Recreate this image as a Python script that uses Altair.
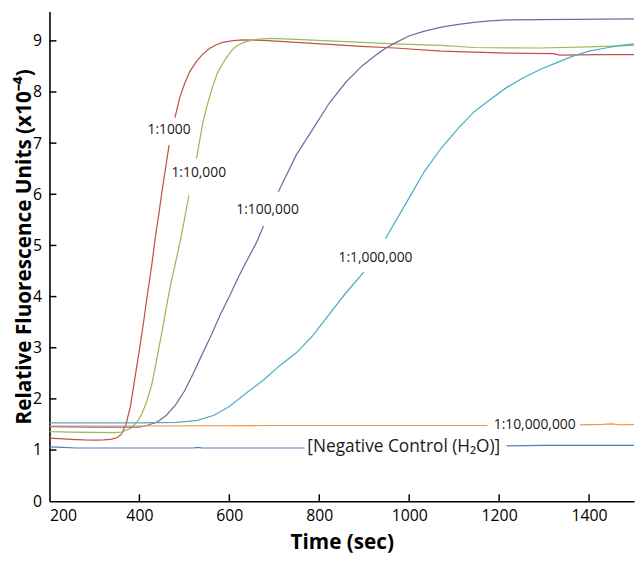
import altair as alt
import pandas as pd

# ---------------- data (None = break where a label sits) ----
red_t = [200, 230, 260, 277, 300, 320, 336, 350, 360, 370, 380, 388, 398, 408, 418, 428, 436, 443, 451, 466, None,
         479, 490, 500, 512, 527, 541, 556, 570, 585, 605, 629, 676, 749, 822, 895, 969, 1071, 1217, 1320, 1335, 1420, 1500]
red_v = [1.235, 1.22, 1.205, 1.197, 1.195, 1.2, 1.21, 1.24, 1.31, 1.5, 1.85, 2.3, 2.85, 3.42, 4.05, 4.65, 5.2, 5.6, 6.1, 6.96, None,
         7.5, 7.9, 8.15, 8.4, 8.6, 8.74, 8.85, 8.92, 8.97, 9.0, 9.02, 9.01, 8.97, 8.93, 8.89, 8.86, 8.80, 8.76, 8.75, 8.72, 8.73, 8.73]

green_t = [200, 250, 300, 340, 360, 380, 395, 405, 415, 427, 438, 450, 460, 470, 480, 490, 500, 510, None,
           527, 541, 551, 562, 573, 588, 603, 612, 620, 630, 639, 650, 660, 690, 749, 822, 895, 969, 1071, 1144, 1291, 1400, 1500]
green_v = [1.36, 1.35, 1.345, 1.34, 1.35, 1.42, 1.55, 1.7, 1.92, 2.26, 2.75, 3.3, 3.8, 4.26, 4.65, 5.05, 5.5, 5.98, None,
           6.7, 7.4, 7.75, 8.08, 8.36, 8.6, 8.79, 8.87, 8.92, 8.96, 8.99, 9.01, 9.03, 9.05, 9.03, 9.00, 8.97, 8.94, 8.91, 8.87, 8.86, 8.88, 8.91]

purple_t = [200, 300, 400, 420, 440, 460, 480, 500, 520, 540, 560, 580, 600, 620, 640, 660, 676, None,
            709, 749, 786, 822, 859, 895, 932, 950, 969, 998, 1030, 1071, 1110, 1144, 1180, 1217, 1364, 1500]
purple_v = [1.46, 1.45, 1.45, 1.49, 1.55, 1.68, 1.88, 2.15, 2.5, 2.88, 3.25, 3.65, 4.0, 4.38, 4.72, 5.05, 5.38, None,
            6.05, 6.77, 7.28, 7.78, 8.19, 8.51, 8.76, 8.87, 8.96, 9.09, 9.18, 9.27, 9.32, 9.36, 9.39, 9.41, 9.42, 9.43]

cyan_t = [200, 300, 400, 483, 529, 566, 600, 640, 676, 712, 749, 786, 822, 859, 899, None,
          947, 998, 1034, 1071, 1108, 1144, 1181, 1217, 1254, 1291, 1327, 1364, 1400, 1437, 1470, 1500]
cyan_v = [1.53, 1.53, 1.53, 1.54, 1.58, 1.68, 1.85, 2.13, 2.37, 2.65, 2.9, 3.24, 3.65, 4.07, 4.48, None,
          5.13, 5.9, 6.45, 6.9, 7.28, 7.61, 7.86, 8.09, 8.28, 8.44, 8.57, 8.70, 8.80, 8.86, 8.91, 8.94]

orange_t = [200, 400, 700, 1000, 1174, None, 1380, 1430, 1450, 1470, 1500]
orange_v = [1.47, 1.47, 1.48, 1.48, 1.48, None, 1.49, 1.50, 1.51, 1.49, 1.50]

blue_t = [200, 230, 260, 400, 520, 529, 540, 600, 767, None, 1217, 1300, 1400, 1500]
blue_v = [1.06, 1.05, 1.04, 1.04, 1.04, 1.05, 1.04, 1.04, 1.04, None, 1.08, 1.09, 1.09, 1.09]

series_names = ["1:1000", "1:10,000", "1:100,000", "1:1,000,000", "1:10,000,000", "Negative Control"]
series_colors = ["#c0504d", "#9bbb59", "#8064a2", "#4bacc6", "#f79646", "#4f81bd"]

label_text = ["1:1000", "1:10,000", "1:100,000", "1:1,000,000", "1:10,000,000", "[Negative Control (H\u2082O)]"]
label_t = [466, 532, 685, 925, 1279, 988]
label_v = [7.25, 6.42, 5.69, 4.75, 1.49, 1.06]
label_size = [14, 14, 14, 14, 14, 17.5]

x_ticks = [200, 400, 600, 800, 1000, 1200, 1400]
y_ticks = [0, 1, 2, 3, 4, 5, 6, 7, 8, 9]

# ---------------- build tables ----------------
rows = []
for name, ts, vs in zip(series_names,
                        [red_t, green_t, purple_t, cyan_t, orange_t, blue_t],
                        [red_v, green_v, purple_v, cyan_v, orange_v, blue_v]):
    seg = 0
    for t, v in zip(ts, vs):
        if v is None:
            seg += 1
            continue
        rows.append({"series": name, "seg": f"{name}-{seg}", "t": t, "v": v})
df = pd.DataFrame(rows)
labels = pd.DataFrame({"text": label_text, "t": label_t, "v": label_v, "size": label_size})
xt = pd.DataFrame({"t": x_ticks[1:]})
yt = pd.DataFrame({"v": y_ticks[1:]})

FONT = "Open Sans"
W, H = 592, 496
xscale = alt.Scale(domain=[200, 1500], nice=False, zero=False)
yscale = alt.Scale(domain=[0, 9.575], nice=False)

lines = alt.Chart(df).mark_line(strokeWidth=1.25).encode(
    x=alt.X("t:Q", scale=xscale,
            axis=alt.Axis(values=x_ticks, format="d", title="Time (sec)", ticks=False, tickSize=0,
                          labelPadding=7, grid=False, titleBaseline="alphabetic", titleY=48,
                          titleFontSize=21)),
    y=alt.Y("v:Q", scale=yscale,
            axis=alt.Axis(values=y_ticks, title="Relative Fluorescence Units (x10\u207b\u2074)",
                          ticks=False, tickSize=0, labelPadding=8, grid=False,
                          titleBaseline="alphabetic", titleX=-19, titleY=238, titleFontSize=21)),
    color=alt.Color("series:N", scale=alt.Scale(domain=series_names, range=series_colors), legend=None),
    detail="seg:N",
)

texts = alt.Chart(labels).mark_text(font=FONT, color="#1a1a1a").encode(
    x=alt.X("t:Q", scale=xscale),
    y=alt.Y("v:Q", scale=yscale),
    text="text:N",
    size=alt.Size("size:Q", scale=None, legend=None),
)

yticks = alt.Chart(yt).mark_rule(color="black", strokeWidth=1.5).encode(
    y=alt.Y("v:Q", scale=yscale), x=alt.value(0), x2=alt.value(7))
xticks = alt.Chart(xt).mark_rule(color="black", strokeWidth=1.5).encode(
    x=alt.X("t:Q", scale=xscale), y=alt.value(H), y2=alt.value(H - 7))

chart = alt.layer(lines, texts, yticks, xticks).properties(
    width=W, height=H,
    autosize=alt.AutoSizeParams(type="none"),
    padding={"left": 42, "right": 2, "top": 0, "bottom": 50},
).configure_view(stroke=None).configure_axis(
    domainColor="black", domainWidth=1.6,
    labelFont=FONT, labelFontSize=16, labelColor="black",
    titleFont=FONT, titleFontWeight="bold", titleColor="black",
)

chart.save("out.html", embed_options={"renderer": "svg", "actions": False})
